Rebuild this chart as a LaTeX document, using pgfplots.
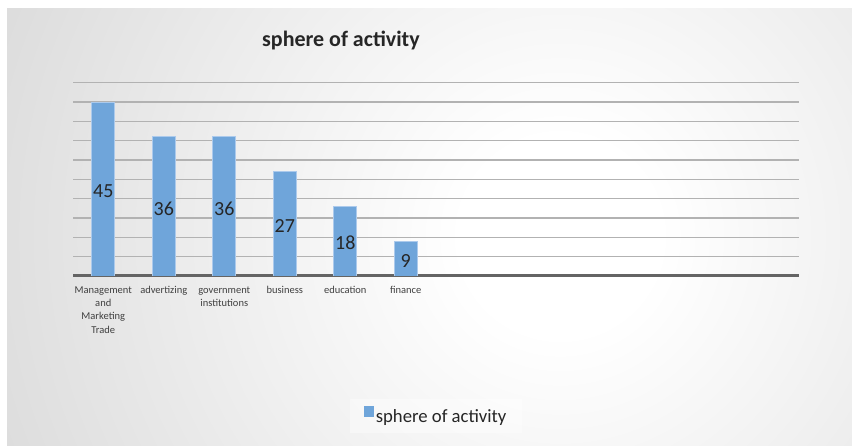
\documentclass[border=0pt]{standalone}
\usepackage{fontspec}
\setmainfont{Carlito}
\usepackage{pgfplots}
\pgfplotsset{compat=1.18}

\definecolor{barblue}{RGB}{111,165,218}
\definecolor{baredge}{RGB}{172,202,236}
\definecolor{gridgray}{RGB}{178,178,178}
\definecolor{axisgray}{RGB}{100,100,100}
\definecolor{txt}{RGB}{64,64,64}
\definecolor{edgegray}{RGB}{194,194,194}

% soft light spot in the middle of the chart area, greying out to the edges
\pgfdeclareradialshading{chartbg}{\pgfpoint{0bp}{0bp}}%
  {color(0bp)=(white); color(3bp)=(white); color(30bp)=(edgegray); color(50bp)=(edgegray)}

\begin{document}
\begin{tikzpicture}[x=1bp,y=1bp]
  % page and chart area
  \fill[white] (0,0) rectangle (852,446);
  \begin{scope}
    \clip (7,0) rectangle (852,437);
    \fill[edgegray] (7,0) rectangle (852,437);
    \shade[shading=chartbg] (560,210) circle (820);
  \end{scope}

  % title
  \node[anchor=base, font=\fontsize{22bp}{25bp}\selectfont\bfseries, text=black!85]
    at (341,399.3) {sphere of activity};

  \begin{axis}[
    at={(73bp,170bp)}, anchor=south west,
    scale only axis, width=726bp, height=193.3bp,
    xmin=-0.5, xmax=11.5, ymin=0, ymax=50,
    axis line style={draw=none},
    major tick length=0,
    ytick={5,10,...,50}, yticklabels={},
    ymajorgrids,
    major grid style={gridgray, line width=1.4bp},
    extra y ticks={0}, extra y tick labels={},
    extra y tick style={major grid style={axisgray, line width=3bp}},
    xtick={0,...,5},
    xticklabels={{Management\\and\\Marketing\\Trade},advertizing,{government\\institutions},business,education,finance},
    xticklabel style={align=center, font=\fontsize{10.5bp}{13.3bp}\selectfont,
      text=txt, anchor=north, yshift=-7bp},
    ybar, bar width=23bp,
    /pgf/number format/assume math mode=true,
    nodes near coords,
    visualization depends on={rawy \as \rawy},
    every node near coord/.append style={anchor=center,
      yshift={-1.933*\rawy*1bp-2bp},
      font=\fontsize{20bp}{22bp}\selectfont, text=black!85},
    legend style={at={(0.5,-0.724)}, anchor=center, draw=none,
      fill=white, fill opacity=0.4, text opacity=1,
      inner xsep=14bp, inner ysep=7bp,
      font=\fontsize{18.7bp}{21bp}\selectfont, text=black!85},
    legend image code/.code={\fill[barblue, fill opacity=1] (-3bp,0bp) rectangle (6.5bp,10bp);},
  ]
    \addplot[fill=barblue, draw=baredge, line width=0.8bp]
      coordinates {(0,45) (1,36) (2,36) (3,27) (4,18) (5,9)};
    \addlegendentry{sphere of activity}
  \end{axis}
\end{tikzpicture}
\end{document}
